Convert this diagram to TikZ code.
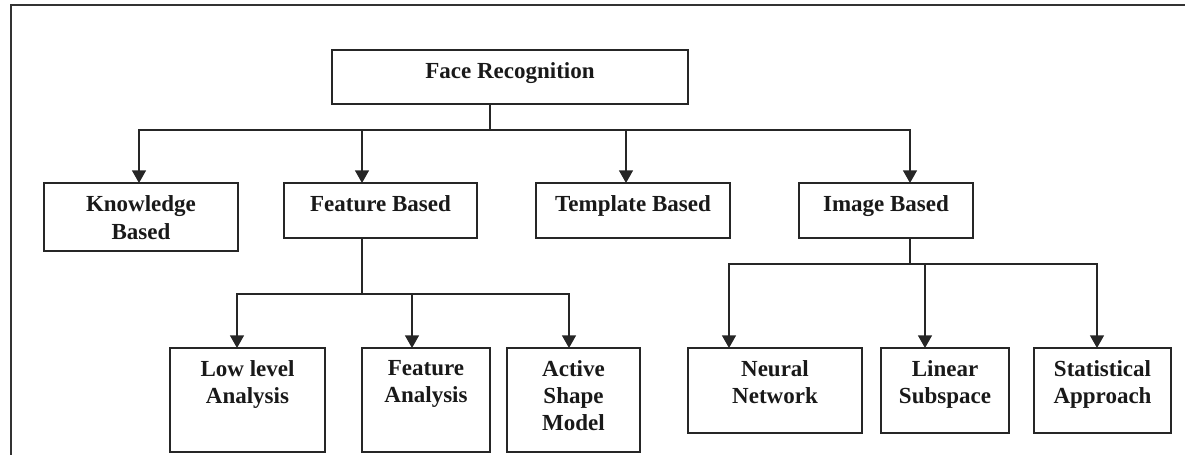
\documentclass[tikz,border=0pt]{standalone}
\usepackage{fontspec}
\setmainfont{Liberation Serif}
\usetikzlibrary{arrows.meta,fit}
\begin{document}
\begin{tikzpicture}[x=0.75pt,y=-0.75pt,
  box/.style={draw=black!85, line width=1.1pt, inner sep=0pt, outer sep=0pt, fit={#1}},
  lbl/.style={font=\fontsize{17.25}{20.5}\selectfont\bfseries, align=center,
    inner sep=0pt, anchor=north, text=black!90},
  wire/.style={line width=1pt, draw=black!85},
  arr/.style={wire, -{Triangle[length=9.5pt,width=10.5pt]}},
  frame/.style={line width=1.5pt, draw=black!80}]
\useasboundingbox (0,0) rectangle (1185,454);
\clip (0,0) rectangle (1185,454);

% outer frame (open to the right and bottom)
\draw[frame] (11,470) -- (11,5) -- (1200,5);

% root
\node[box={(332,50) (688,104)}] (fr) {};
\node[lbl] (frt) at ([yshift=-9pt]fr.north) {Face Recognition};

% first level
\node[box={(44,183) (238,251)}] (kb) {};
\node[box={(284,183) (477,238)}] (fb) {};
\node[box={(536,183) (730,238)}] (tb) {};
\node[box={(799,183) (973,238)}] (ib) {};
\node[lbl] (kbt) at ([yshift=-9.5pt]kb.north) {Knowledge\\Based};
\node[lbl] (fbt) at ([yshift=-9.5pt]fb.north) {Feature Based};
\node[lbl] (tbt) at ([yshift=-9.5pt]tb.north) {Template Based};
\node[lbl] (ibt) at ([yshift=-9.5pt]ib.north) {Image Based};

% second level, feature based branch
\node[box={(170,348) (325,452)}] (lla) {};
\node[box={(362,348) (490,452)}] (fa) {};
\node[box={(507,348) (640,452)}] (asm) {};
\node[lbl] (llat) at ([yshift=-9pt]lla.north) {Low level\\Analysis};
\node[lbl] (fat) at ([yshift=-9pt]fa.north) {Feature\\Analysis};
\node[lbl] (asmt) at ([yshift=-9pt]asm.north) {Active\\Shape\\Model};

% second level, image based branch
\node[box={(688,348) (862,433)}] (nn) {};
\node[box={(881,348) (1009,433)}] (ls) {};
\node[box={(1034,348) (1171,433)}] (sa) {};
\node[lbl] (nnt) at ([yshift=-9pt]nn.north) {Neural\\Network};
\node[lbl] (lst) at ([yshift=-9pt]ls.north) {Linear\\Subspace};
\node[lbl] (sat) at ([yshift=-9pt]sa.north) {Statistical\\Approach};

% root -> first level
\coordinate (s1) at (490,130);
\coordinate (b1l) at (139,130);
\coordinate (b1f) at (362,130);
\coordinate (b1t) at (626,130);
\coordinate (b1r) at (910,130);
\draw[wire] (fr.south -| s1) -- (s1);
\draw[arr] (s1) -- (b1l) -- (kb.north -| b1l);
\draw[arr] (s1) -- (b1r) -- (ib.north -| b1r);
\draw[arr] (b1f) -- (fb.north -| b1f);
\draw[arr] (b1t) -- (tb.north -| b1t);

% feature based -> its methods
\coordinate (s2) at (362,294);
\coordinate (b2l) at (241,294);
\coordinate (b2m) at (412,294);
\coordinate (b2r) at (569,294);
\draw[wire] (fb.south -| s2) -- (s2);
\draw[arr] (s2) -- ([xshift=-3pt]b2l) -- ([xshift=-3pt]lla.north -| b2l);
\draw[arr] (s2) -- (b2r) -- (asm.north -| b2r);
\draw[arr] (b2m) -- (fa.north -| b2m);

% image based -> its methods
\coordinate (s3) at (910,264);
\coordinate (b3l) at (729,264);
\coordinate (b3m) at (925,264);
\coordinate (b3r) at (1097,264);
\draw[wire] (ib.south -| s3) -- (s3);
\draw[arr] (s3) -- (b3l) -- (nn.north -| b3l);
\draw[arr] (s3) -- (b3r) -- (sa.north -| b3r);
\draw[arr] (b3m) -- (ls.north -| b3m);
\end{tikzpicture}
\end{document}
